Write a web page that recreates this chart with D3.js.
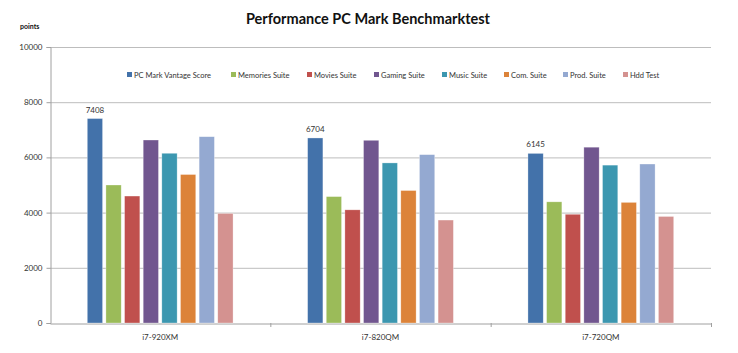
<!DOCTYPE html>
<html><head><meta charset="utf-8">
<script src="https://cdn.jsdelivr.net/npm/d3@7"></script>
<style>body{margin:0;background:#fff}svg{display:block}</style>
</head><body><svg id="c" width="738" height="353"></svg>
<script>
const categories = ["i7-920XM", "i7-820QM", "i7-720QM"];
const seriesNames = ["PC Mark Vantage Score","Memories Suite","Movies Suite","Gaming Suite","Music Suite","Com. Suite","Prod. Suite","Hdd Test"];
const pcMark   = [7408, 6704, 6145];
const memories = [5000, 4580, 4390];
const movies   = [4600, 4100, 3940];
const gaming   = [6630, 6620, 6370];
const music    = [6150, 5800, 5720];
const com      = [5380, 4800, 4370];
const prod     = [6750, 6100, 5760];
const hdd      = [3970, 3730, 3860];
const yTicks = [0, 2000, 4000, 6000, 8000, 10000];
const colors = ["#4372aa","#9bbb59","#c0504d","#71568f","#3c97b0","#dc8339","#94a9d1","#d49290"];
const seriesValues = [pcMark, memories, movies, gaming, music, com, prod, hdd];

const svg = d3.select("#c");
const font = "Lato, 'Open Sans', sans-serif";
const L = 50, R = 711, T = 47, B = 323;

const x0 = d3.scaleBand().domain(categories).range([L, R]);
const x1 = d3.scaleBand().domain(seriesNames).range([0, x0.bandwidth()]).paddingInner(0.18).paddingOuter(2.0);
const y = d3.scaleLinear().domain([0, 10000]).range([B, T]);

// gridlines
svg.append("g").selectAll("line").data(yTicks.filter(d => d > 0)).join("line")
  .attr("x1", L).attr("x2", R).attr("y1", d => y(d) + 0.5).attr("y2", d => y(d) + 0.5)
  .attr("stroke", "#bdbdbd").attr("stroke-width", 1);

// y axis
const ya = svg.append("g").attr("transform", `translate(${L + 0.5},0)`)
  .call(d3.axisLeft(y).tickValues(yTicks).tickSize(4).tickPadding(4).tickFormat(d3.format("d")));
ya.select(".domain").attr("stroke", "#a0a0a0");
ya.selectAll(".tick line").attr("stroke", "#a0a0a0");
ya.selectAll("text").attr("font-family", font).attr("font-size", 8).attr("fill", "#333");

// x axis
const xa = svg.append("g").attr("transform", `translate(0,${B + 0.5})`)
  .call(d3.axisBottom(x0).tickSize(0).tickPadding(11));
xa.select(".domain").attr("stroke", "#a0a0a0");
xa.selectAll("text").attr("font-family", font).attr("font-size", 8).attr("fill", "#333");
// boundary ticks
svg.append("g").selectAll("line").data(categories.slice(1).map(c => x0(c)).concat([R])).join("line")
  .attr("x1", d => d + 0.5).attr("x2", d => d + 0.5).attr("y1", B).attr("y2", B + 4)
  .attr("stroke", "#a0a0a0");

// bars
const groups = svg.append("g").selectAll("g").data(categories).join("g")
  .attr("transform", c => `translate(${x0(c)},0)`);
groups.selectAll("rect").data((c, i) => seriesNames.map((s, k) => ({s, k, v: seriesValues[k][i]}))).join("rect")
  .attr("x", d => x1(d.s)).attr("width", x1.bandwidth())
  .attr("y", d => y(d.v)).attr("height", d => B - y(d.v))
  .attr("fill", d => colors[d.k]).attr("stroke", "#ffffff").attr("stroke-opacity", 0.5).attr("stroke-width", 0.6);

// value labels on first series
groups.append("text")
  .attr("x", x1(seriesNames[0]) + x1.bandwidth() / 2)
  .attr("y", (c, i) => y(pcMark[i]) - 6)
  .attr("text-anchor", "middle").attr("font-family", font).attr("font-size", 8).attr("fill", "#333")
  .text((c, i) => pcMark[i]);

// legend
const legendX = [127, 231, 307, 374, 442, 504, 563, 623];
const lg = svg.append("g").selectAll("g").data(seriesNames).join("g")
  .attr("transform", (d, i) => `translate(${legendX[i]},75)`);
lg.append("rect").attr("x", 0).attr("y", -3).attr("width", 5).attr("height", 5).attr("fill", (d, i) => colors[i]);
lg.append("text").attr("x", 7).attr("y", 2.5).attr("font-family", font).attr("font-size", 7.5).attr("fill", "#333").text(d => d);

// title
svg.append("text").attr("x", 368).attr("y", 24).attr("text-anchor", "middle")
  .attr("font-family", font).attr("font-weight", "bold").attr("font-size", 14.5).attr("fill", "#111")
  .text("Performance PC Mark Benchmarktest");
svg.append("text").attr("x", 20).attr("y", 29).attr("font-family", font).attr("font-weight", "bold")
  .attr("font-size", 7).attr("fill", "#111").text("points");
</script></body></html>
